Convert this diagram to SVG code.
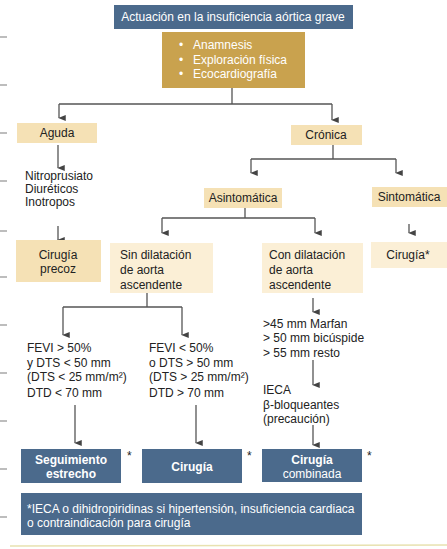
<svg xmlns="http://www.w3.org/2000/svg" width="447" height="549" viewBox="0 0 447 549">
<defs>
<marker id="ah" viewBox="0 0 8 10" refX="4" refY="9" markerWidth="6" markerHeight="9" markerUnits="userSpaceOnUse" orient="auto-start-reverse">
<path d="M0,0 L8,0 L4,10 Z" fill="#444"/>
</marker>
</defs>
<style>
text{font-family:"Liberation Sans","Open Sans",Arial,sans-serif;font-size:12px;fill:#222}
.w{fill:#fff}
.b{font-weight:bold}
.c{text-anchor:middle}
.blue{fill:#4b6a8c}
.gold{fill:#c9a24e}
.tan{fill:#f5e1b5}
.cream{fill:#fbefd6}
.ln{stroke:#555;stroke-width:1.3;fill:none}
.ar{stroke:#555;stroke-width:1.3;fill:none;marker-end:url(#ah)}
.tick{stroke:#999;stroke-width:1.3}
</style>
<rect width="447" height="549" fill="#fff"/>
<g id="ticks">
<line class="tick" x1="0" y1="37" x2="7" y2="37"/>
<line class="tick" x1="0" y1="85" x2="7" y2="85"/>
<line class="tick" x1="0" y1="133" x2="7" y2="133"/>
<line class="tick" x1="0" y1="181" x2="7" y2="181"/>
<line class="tick" x1="0" y1="231" x2="7" y2="231"/>
<line class="tick" x1="0" y1="277" x2="7" y2="277"/>
<line class="tick" x1="0" y1="325" x2="7" y2="325"/>
<line class="tick" x1="0" y1="373" x2="7" y2="373"/>
<line class="tick" x1="0" y1="421" x2="7" y2="421"/>
<line class="tick" x1="0" y1="469" x2="7" y2="469"/>
<line class="tick" x1="0" y1="517" x2="7" y2="517"/>
</g>
<line x1="10" y1="546" x2="447" y2="545" stroke="#e8e2b0" stroke-width="1.5"/>
<g id="connectors">
<path class="ln" d="M232,88 V104 M59,104 H332"/>
<path class="ar" d="M59,104 V118"/>
<path class="ar" d="M332,104 V120"/>
<path class="ar" d="M58,145 V168"/>
<path class="ar" d="M58,226 V240"/>
<path class="ln" d="M333,145 V159 M251,159 H396"/>
<path class="ar" d="M251,159 V173"/>
<path class="ar" d="M396,159 V173"/>
<path class="ln" d="M245,208 V218 M162,218 H315"/>
<path class="ar" d="M162,218 V233"/>
<path class="ar" d="M315,218 V233"/>
<path class="ar" d="M409,224 V233"/>
<path class="ln" d="M147,293 V307 M63,307 H182"/>
<path class="ar" d="M63,307 V335"/>
<path class="ar" d="M182,307 V335"/>
<path class="ar" d="M313,298 V312"/>
<path class="ar" d="M313,360 V385"/>
<path class="ar" d="M313,425 V445"/>
<path class="ar" d="M75,405 V443"/>
<path class="ar" d="M196,405 V443"/>
</g>
<g id="title">
<rect class="blue" x="114" y="5" width="239" height="24"/>
<text class="w c" x="233" y="21" font-size="11.5">Actuación en la insuficiencia aórtica grave</text>
</g>
<g id="evaluacion">
<rect class="gold" x="162" y="32" width="143" height="56"/>
<text class="w" x="179" y="49" font-size="11.5">•</text>
<text class="w" x="193" y="49" font-size="11.5">Anamnesis</text>
<text class="w" x="179" y="64" font-size="11.5">•</text>
<text class="w" x="193" y="64" font-size="11.5">Exploración física</text>
<text class="w" x="179" y="78" font-size="11.5">•</text>
<text class="w" x="193" y="78" font-size="11.5">Ecocardiografía</text>
</g>
<g id="aguda">
<rect class="tan" x="17" y="123" width="80" height="20"/>
<text class="c" x="57" y="137">Aguda</text>
</g>
<g id="cronica">
<rect class="tan" x="291" y="125" width="71" height="20"/>
<text class="c" x="326" y="139">Crónica</text>
</g>
<g id="tratamiento-agudo">
<text x="25" y="180" font-size="11.3">Nitroprusiato</text>
<text x="25" y="193" font-size="11.3">Diuréticos</text>
<text x="25" y="206" font-size="11.3">Inotropos</text>
</g>
<g id="cirugia-precoz">
<rect class="tan" x="16" y="240" width="85" height="42"/>
<text class="c" x="58" y="259">Cirugía</text>
<text class="c" x="58" y="273">precoz</text>
</g>
<g id="asintomatica">
<rect class="tan" x="204" y="188" width="78" height="20"/>
<text class="c" x="243" y="202">Asintomática</text>
</g>
<g id="sintomatica">
<rect class="tan" x="372" y="187" width="75" height="20"/>
<text class="c" x="409" y="201">Sintomática</text>
</g>
<g id="sin-dilatacion">
<rect class="cream" x="110" y="243" width="103" height="50"/>
<text x="120" y="259">Sin dilatación</text>
<text x="120" y="274">de aorta</text>
<text x="120" y="289">ascendente</text>
</g>
<g id="con-dilatacion">
<rect class="cream" x="262" y="243" width="101" height="50"/>
<text x="269" y="259">Con dilatación</text>
<text x="269" y="274">de aorta</text>
<text x="269" y="289">ascendente</text>
</g>
<g id="cirugia-sintomatica">
<rect class="cream" x="371" y="242" width="76" height="26"/>
<text class="c" x="408" y="259">Cirugía*</text>
</g>
<g id="criterios-izq">
<text x="27" y="352">FEVI &gt; 50%</text>
<text x="27" y="367">y DTS &lt; 50 mm</text>
<text x="27" y="381">(DTS &lt; 25 mm/m²)</text>
<text x="27" y="397">DTD &lt; 70 mm</text>
</g>
<g id="criterios-der">
<text x="149" y="352">FEVI &lt; 50%</text>
<text x="149" y="367">o DTS &gt; 50 mm</text>
<text x="149" y="381">(DTS &gt; 25 mm/m²)</text>
<text x="149" y="397">DTD &gt; 70 mm</text>
</g>
<g id="umbrales">
<text x="263" y="328">&gt;45 mm Marfan</text>
<text x="263" y="342">&gt; 50 mm bicúspide</text>
<text x="263" y="357">&gt; 55 mm resto</text>
</g>
<g id="farmacos">
<text x="263" y="394">IECA</text>
<text x="263" y="409">β-bloqueantes</text>
<text x="263" y="423">(precaución)</text>
</g>
<g id="seguimiento">
<rect class="blue" x="21" y="449" width="100" height="34"/>
<text class="w c b" x="71" y="464" font-size="10.8">Seguimiento</text>
<text class="w c b" x="71" y="478" font-size="10.8">estrecho</text>
<text x="127" y="460" font-size="10">*</text>
</g>
<g id="cirugia">
<rect class="blue" x="142" y="449" width="100" height="34"/>
<text class="w c b" x="192" y="471" font-size="10.8">Cirugía</text>
<text x="247" y="460" font-size="10">*</text>
</g>
<g id="cirugia-combinada">
<rect class="blue" x="262" y="449" width="100" height="33"/>
<text class="w c b" x="312" y="464" font-size="10.8">Cirugía</text>
<text class="w c" x="312" y="478" font-size="10.8">combinada</text>
<text x="367" y="460" font-size="10">*</text>
</g>
<g id="nota">
<rect class="blue" x="21" y="493" width="341" height="42"/>
<text class="w" x="27" y="513" font-size="11.5">*IECA o dihidropiridinas si hipertensión, insuficiencia cardiaca</text>
<text class="w" x="27" y="527" font-size="11.5">o contraindicación para cirugía</text>
</g>
</svg>
